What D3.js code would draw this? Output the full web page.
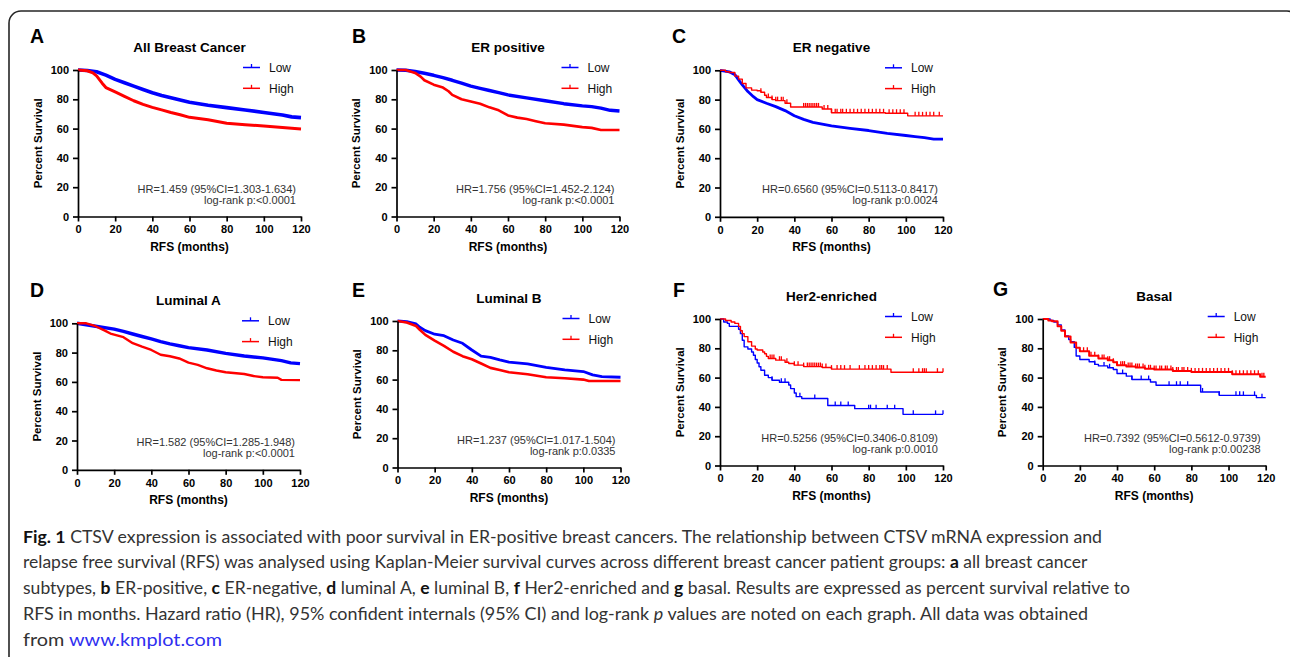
<!DOCTYPE html>
<html>
<head>
<meta charset="utf-8">
<script src="https://cdn.jsdelivr.net/npm/d3@7"></script>
<style>
  body { margin: 0; background: #fff; }
  svg { display: block; font-family: "Liberation Sans", Arial, sans-serif; }
</style>
</head>
<body>
<svg id="fig" width="1290" height="657"></svg>
<script>
// ---- data ----
const panelLetters = ["A", "B", "C", "D", "E", "F", "G"];
const panelTitles = ["All Breast Cancer", "ER positive", "ER negative", "Luminal A", "Luminal B", "Her2-enriched", "Basal"];
const hrLabels = [
  "HR=1.459 (95%CI=1.303-1.634)",
  "HR=1.756 (95%CI=1.452-2.124)",
  "HR=0.6560 (95%CI=0.5113-0.8417)",
  "HR=1.582 (95%CI=1.285-1.948)",
  "HR=1.237 (95%CI=1.017-1.504)",
  "HR=0.5256 (95%CI=0.3406-0.8109)",
  "HR=0.7392 (95%CI=0.5612-0.9739)"
];
const logrankLabels = ["log-rank p:<0.0001", "log-rank p:<0.0001", "log-rank p:0.0024", "log-rank p:<0.0001",
  "log-rank p:0.0335", "log-rank p:0.0010", "log-rank p:0.00238"];
const seriesNames = ["Low", "High"];
const xTicks = [0, 20, 40, 60, 80, 100, 120];
const yTicks = [0, 20, 40, 60, 80, 100];

// [months, percent survival]
const lowA = [[0,100],[5,99.7],[10,98.8],[15,96.5],[20,93.6],[25,91.3],[30,89],[35,86.7],[40,84.5],[45,82.6],[50,81],[55,79.5],[60,78],[70,76],[80,74.3],[90,72.7],[100,71],[110,69.3],[115,68],[120,67.5]];
const highA = [[0,100],[5,99.5],[8,98],[10,96],[13,91],[15,88],[20,85],[25,82],[30,79],[35,76.5],[40,74.5],[45,72.8],[50,71],[55,69.5],[60,67.7],[70,66],[80,63.6],[90,62.7],[100,61.8],[110,60.7],[120,59.8]];

const lowB = [[0,100],[5,99.8],[10,99],[15,97.8],[20,96.4],[25,94.8],[30,93],[35,91],[40,89],[45,87.5],[50,86],[55,84.5],[60,83],[70,81],[80,79],[90,77],[100,75.5],[105,75],[110,74],[115,72.5],[120,72]];
const highB = [[0,100],[5,100],[10,98],[13,95.5],[15,93],[20,90],[25,88],[28,85.5],[30,83],[35,80],[40,78.5],[45,77],[50,74.5],[55,72.5],[60,69],[65,67.5],[70,66.5],[75,65],[80,63.6],[90,62.7],[100,61],[105,60.5],[110,59],[120,59]];

const lowC = [[0,100],[5,99],[8,97],[10,93.5],[12,90],[15,85.5],[18,82],[20,80],[25,77.5],[30,75.2],[35,72.5],[40,69],[45,66.5],[50,64.5],[60,62],[70,60.4],[80,58.9],[90,57],[100,55.5],[105,54.8],[110,54],[115,53],[120,53]];
const highC = [[0,100],[3,99],[5,98.5],[8,96],[10,94],[12,91],[14,88],[17,86.5],[20,86],[22,85],[24,83],[25,81.4],[28,80],[30,79.3],[35,77.5],[38,75],[55,73.6],[60,71],[89,70.7],[101,68.9],[120,68.9]];
const censorHighC = [22,26,28,30,31,33,34,36,45,46,47,48,49,50,51,52,53,56,58,60,62,63,65,66,68,70,72,74,76,78,80,82,84,86,88,91,93,95,97,99,105,107,109,111,113,115,118];

const lowD = [[0,100],[10,98],[20,96],[25,94.5],[30,92.7],[35,91],[40,89.3],[45,87.5],[50,86],[55,84.7],[60,83.4],[70,81.8],[80,79.5],[90,77.7],[100,76.4],[110,74.5],[115,73],[120,72.5]];
const highD = [[0,100],[5,100],[10,98],[15,95],[18,93],[25,90.5],[30,86.4],[35,84],[40,81.8],[45,78.5],[50,77.5],[55,76],[60,73.2],[65,71.6],[70,69.3],[75,67.8],[80,66.6],[90,65.4],[95,64],[100,63.2],[108,62.8],[110,61.4],[120,61.2]];

const lowE = [[0,100],[5,99.5],[10,98],[12,95.7],[15,93.4],[20,91],[25,90],[30,87],[35,84.8],[40,80.2],[45,76],[50,75.2],[55,73.5],[60,72],[70,70.7],[80,68.4],[90,66.6],[100,65.5],[105,63.2],[110,62],[120,61.6]];
const highE = [[0,100],[5,99],[10,96.6],[12,94],[15,90.5],[20,86.6],[25,83],[30,79],[35,76],[40,73.9],[45,71],[50,68],[55,66.5],[60,65],[70,63.6],[80,61.6],[90,60.9],[100,60],[103,59],[120,59]];

const lowF = [[0,100],[2,98],[4,97],[5,95],[10,93],[11,90],[12,85.5],[13,81],[15,79.5],[17,77.5],[18,75.3],[19,72.4],[20,70],[21,67.4],[22,65],[24,61.6],[26,60],[28,58.2],[32,56.8],[37,55],[38,52.5],[40,49.5],[41,47],[44,45.7],[58,41],[72.5,38.8],[98.5,34.9],[120,34.9]];
const highF = [[0,100],[3,99],[6,98],[8,97],[10,95],[11,92],[12,90],[13,88],[15,84.5],[17,81.5],[19,79.5],[20,78.8],[23,77.5],[24,76.3],[25,74.5],[26,73],[30,71.9],[35,70.5],[37,69.6],[40,68.5],[45,67.5],[55,66.9],[60,65.8],[92,63.7],[120,63.7]];
const censorLowF = [28,33,35,43,51,62,65,69,80,81,84,90,94,104,116,120];
const censorHighF = [27,28,29,32,33,36,40,42,45,47,48,49,50,51,52,53,54,55,57,60,63,65,67,70,75,78,80,82,84,86,87,88,90,104,107,109,110,111,117,120];

const lowG = [[0,100],[4,99],[6,98],[8,96],[10,92.5],[12,88.4],[14,86],[15,84.5],[17,80.6],[18,74.7],[20,72.4],[25,70.8],[28,69],[30,68],[35,66.7],[38,65.5],[40,62.8],[45,61],[48,58.7],[58,57],[61,54.8],[85,50.2],[95,47.9],[115,46.3],[120,46.3]];
const highG = [[0,100],[3,99],[5,98.5],[8,95],[10,92],[12,88],[15,84],[18,80.4],[20,78],[25,75],[30,73],[35,71.9],[38,70.5],[40,68.5],[45,67.5],[50,66.9],[55,66],[60,65.5],[70,64.5],[80,63.9],[102,62.3],[117,60.5],[120,60.5]];
const censorLowG = [28,33,36,43,48,53,57,68,72,74,78,86,95,104,106,108,114,118];
const censorHighG = [22,24,26,28,30,32,33,35,36,38,40,42,43,44,46,47,48,50,51,52,54,55,57,58,60,61,63,64,66,67,69,70,72,73,75,76,78,80,82,84,86,88,90,92,94,96,98,100,102,104,106,108,110,112,114,116,118,119];

const lowSeries = [lowA, lowB, lowC, lowD, lowE, lowF, lowG];
const highSeries = [highA, highB, highC, highD, highE, highF, highG];
const lowCensor = [[], [], [], [], [], censorLowF, censorLowG];
const highCensor = [[], [], censorHighC, [], [], censorHighF, censorHighG];

// ---- layout / style ----
const pw = 223, ph = 146.5;
const layout = [
  {x: 78, y: 70, lx: 30, ly: 43},
  {x: 396.5, y: 70, lx: 352, ly: 43},
  {x: 720, y: 70.3, lx: 672, ly: 43},
  {x: 77, y: 323.3, lx: 30, ly: 297},
  {x: 397.5, y: 321, lx: 352, ly: 297},
  {x: 720, y: 319, lx: 673, ly: 297},
  {x: 1042.7, y: 319, lx: 993, ly: 296}
];
// stroke widths [low, high] and whether each series is drawn as visible steps
const widths = [[3.6, 3], [3.4, 2.6], [2.8, 1.4], [3.4, 2.4], [2.8, 2.6], [1.4, 1.4], [1.4, 2]];
const stepped = [[false, false], [false, false], [false, true], [false, false], [false, false], [true, true], [true, true]];
const colors = ["#0000ff", "#ff0000"];

const svg = d3.select("#fig");
svg.append("rect").attr("width", 1290).attr("height", 657).attr("fill", "#fff");

// frame
svg.append("rect")
  .attr("x", 9).attr("y", 11).attr("width", 1290).attr("height", 720).attr("rx", 12)
  .attr("fill", "none").attr("stroke", "#262626").attr("stroke-width", 1.6);

function stepValue(data, t) {
  let v = data[0][1];
  for (const d of data) { if (d[0] <= t) v = d[1]; }
  return v;
}

function drawPanel(i) {
  const L = layout[i];
  const g = svg.append("g").attr("transform", `translate(${L.x},${L.y})`);
  const x = d3.scaleLinear().domain([0, 120]).range([0, pw]);
  const y = d3.scaleLinear().domain([0, 100]).range([ph, 0]);

  [lowSeries[i], highSeries[i]].forEach((data, s) => {
    const line = d3.line()
      .x(d => x(d[0]))
      .y(d => y(d[1]))
      .curve(stepped[i][s] ? d3.curveStepAfter : d3.curveLinear);
    g.append("path")
      .attr("d", line(data))
      .attr("fill", "none")
      .attr("stroke", colors[s])
      .attr("stroke-width", widths[i][s])
      .attr("stroke-linejoin", "round");

    const cens = s === 0 ? lowCensor[i] : highCensor[i];
    g.selectAll(null)
      .data(cens)
      .enter()
      .append("line")
      .attr("x1", t => x(t)).attr("x2", t => x(t))
      .attr("y1", t => y(stepValue(data, t)))
      .attr("y2", t => y(stepValue(data, t)) - 4)
      .attr("stroke", colors[s])
      .attr("stroke-width", 1.3);
  });

  const xAxis = g.append("g")
    .attr("transform", `translate(0,${ph})`)
    .call(d3.axisBottom(x).tickValues(xTicks).tickSize(5).tickSizeOuter(0).tickPadding(4));
  const yAxis = g.append("g")
    .call(d3.axisLeft(y).tickValues(yTicks).tickSize(5).tickSizeOuter(0).tickPadding(4));
  [xAxis, yAxis].forEach(a => {
    a.select(".domain").attr("stroke", "#000").attr("stroke-width", 1.7);
    a.selectAll(".tick line").attr("stroke", "#000").attr("stroke-width", 1.7);
    a.selectAll(".tick text")
      .attr("fill", "#000")
      .attr("font-size", 11)
      .attr("font-weight", "bold")
      .attr("font-family", "'Liberation Sans', Arial, sans-serif");
  });

  // title
  g.append("text")
    .attr("x", pw / 2).attr("y", -18)
    .attr("text-anchor", "middle")
    .attr("font-size", 13.5).attr("font-weight", "bold")
    .text(panelTitles[i]);

  // axis titles
  g.append("text")
    .attr("transform", `translate(-36.5,${ph / 2}) rotate(-90)`)
    .attr("text-anchor", "middle")
    .attr("font-size", 11.5).attr("font-weight", "bold")
    .text("Percent Survival");
  g.append("text")
    .attr("x", pw / 2).attr("y", ph + 34)
    .attr("text-anchor", "middle")
    .attr("font-size", 12).attr("font-weight", "bold")
    .text("RFS (months)");

  // legend
  seriesNames.forEach((name, s) => {
    const ly = s === 0 ? -2.5 : 18.3;
    g.append("line")
      .attr("x1", pw - 58).attr("x2", pw - 41)
      .attr("y1", ly).attr("y2", ly)
      .attr("stroke", colors[s]).attr("stroke-width", 1.5);
    g.append("line")
      .attr("x1", pw - 49.5).attr("x2", pw - 49.5)
      .attr("y1", ly).attr("y2", ly - 3.5)
      .attr("stroke", colors[s]).attr("stroke-width", 1.3);
    g.append("text")
      .attr("x", pw - 32).attr("y", ly + 4.3)
      .attr("font-size", 12).attr("fill", "#111")
      .text(name);
  });

  // statistics
  g.append("text")
    .attr("x", pw - 5).attr("y", ph - 24)
    .attr("text-anchor", "end").attr("font-size", 11).attr("fill", "#333")
    .text(hrLabels[i]);
  g.append("text")
    .attr("x", pw - 5).attr("y", ph - 12.5)
    .attr("text-anchor", "end").attr("font-size", 11).attr("fill", "#333")
    .text(logrankLabels[i]);

  // panel letter
  svg.append("text")
    .attr("x", L.lx).attr("y", L.ly)
    .attr("font-size", 19.5).attr("font-weight", "bold")
    .text(panelLetters[i]);
}

panelLetters.forEach((_, i) => drawPanel(i));

// ---- caption ----
const captionLines = [
  [["Fig. 1", "b"], [" CTSV expression is associated with poor survival in ER-positive breast cancers. The relationship between CTSV mRNA expression and", ""]],
  [["relapse free survival (RFS) was analysed using Kaplan-Meier survival curves across different breast cancer patient groups: ", ""], ["a", "b"], [" all breast cancer", ""]],
  [["subtypes, ", ""], ["b", "b"], [" ER-positive, ", ""], ["c", "b"], [" ER-negative, ", ""], ["d", "b"], [" luminal A, ", ""], ["e", "b"], [" luminal B, ", ""], ["f", "b"], [" Her2-enriched and ", ""], ["g", "b"], [" basal. Results are expressed as percent survival relative to", ""]],
  [["RFS in months. Hazard ratio (HR), 95% confident internals (95% CI) and log-rank ", ""], ["p", "i"], [" values are noted on each graph. All data was obtained", ""]],
  [["from ", ""], ["www.kmplot.com", "link"]]
];
const captionEnds = [1102, 1089, 1130, 1088, 222];
const capLeft = 23, capTop = 542.5, capStep = 25.8;

captionLines.forEach((segs, li) => {
  const t = svg.append("text")
    .attr("x", capLeft).attr("y", capTop + li * capStep)
    .attr("font-family", "Lato, 'Open Sans', sans-serif")
    .attr("font-size", 17.5)
    .attr("fill", "#333")
    .attr("xml:space", "preserve");
  segs.forEach(([txt, st]) => {
    const sp = t.append("tspan").text(txt);
    if (st === "b") sp.attr("font-weight", "bold").attr("fill", "#111");
    if (st === "i") sp.attr("font-style", "italic");
    if (st === "link") sp.attr("fill", "#2f2ff0");
  });
  const w = t.node().getComputedTextLength();
  const target = captionEnds[li] - capLeft;
  if (Math.abs(w - target) > 2) {
    t.attr("textLength", target).attr("lengthAdjust", "spacingAndGlyphs");
  }
});
</script>
</body>
</html>
